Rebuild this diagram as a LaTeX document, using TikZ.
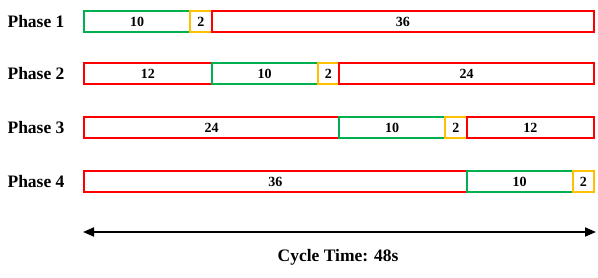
\documentclass[tikz,border=0pt]{standalone}
\usepackage{fontspec}
\setmainfont{Liberation Serif}
\usetikzlibrary{arrows.meta}
\definecolor{sgreen}{HTML}{00B050}
\definecolor{syellow}{HTML}{FFC000}
\definecolor{sred}{HTML}{FF0000}
\begin{document}
\begin{tikzpicture}[x=1pt,y=1pt,
  seg/.style={draw, line width=2pt, minimum height=21pt, inner sep=0pt, outer sep=0pt, anchor=west, font=\bfseries\fontsize{14}{14}\selectfont},
  gr/.style={seg, draw=sgreen, minimum width=106.25pt},
  ye/.style={seg, draw=syellow, minimum width=21.25pt},
  phlabel/.style={font=\bfseries\fontsize{17.5}{17.5}\selectfont},
  tip/.style={Triangle[length=12pt,width=9pt]}]
\useasboundingbox (0,0) rectangle (598,278);
% Phase 1
\node[phlabel] (l1) at (36,256.5) {Phase 1};
\node[gr] (p1a) at (84,256.5) {10};
\node[ye] (p1b) at (p1a.east) {2};
\node[seg, draw=sred, minimum width=382.5pt] (p1c) at (p1b.east) {36};
% Phase 2
\node[phlabel] (l2) at (36,204) {Phase 2};
\node[seg, draw=sred, minimum width=127.5pt] (p2a) at (84,204) {12};
\node[gr] (p2b) at (p2a.east) {10};
\node[ye] (p2c) at (p2b.east) {2};
\node[seg, draw=sred, minimum width=255pt] (p2d) at (p2c.east) {24};
% Phase 3
\node[phlabel] (l3) at (36,150.5) {Phase 3};
\node[seg, draw=sred, minimum width=255pt] (p3a) at (84,150.5) {24};
\node[gr] (p3b) at (p3a.east) {10};
\node[ye] (p3c) at (p3b.east) {2};
\node[seg, draw=sred, minimum width=127.5pt] (p3d) at (p3c.east) {12};
% Phase 4
\node[phlabel] (l4) at (36,96) {Phase 4};
\node[seg, draw=sred, minimum width=382.5pt] (p4a) at (84,96) {36};
\node[gr] (p4b) at (p4a.east) {10};
\node[ye] (p4c) at (p4b.east) {2};
% Cycle arrow
\coordinate (al) at (83,46);
\coordinate (ar) at (596,46);
\draw[line width=1.8pt, {Triangle[length=11pt,width=9pt]}-{Triangle[length=11pt,width=9pt]}] (al) -- (ar);
\node[phlabel] (ct) at (338,21) {Cycle Time: 48s};
\end{tikzpicture}
\end{document}
